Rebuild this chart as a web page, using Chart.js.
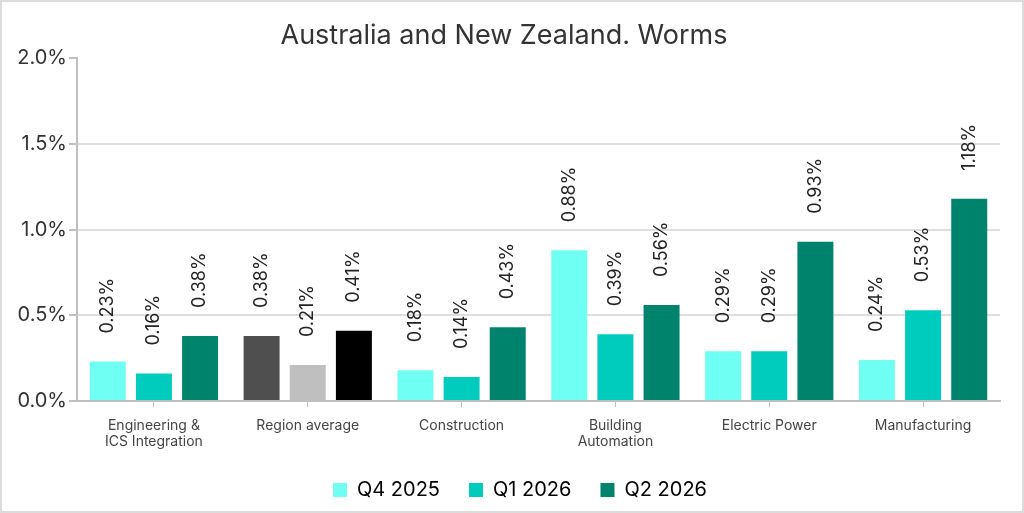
<!DOCTYPE html>
<html>
<head>
<meta charset="utf-8">
<script src="https://cdn.jsdelivr.net/npm/chart.js@4"></script>
<style>
  html, body { margin: 0; padding: 0; background: #fff; }
  #wrap { position: relative; width: 1024px; height: 513px; }
  #frame { position: absolute; left: 0; top: 0; width: 1020px; height: 509px; border: 2px solid #dcdcdc; pointer-events: none; }
</style>
</head>
<body>
<div id="wrap">
  <canvas id="wormsChart" width="1024" height="513"></canvas>
  <div id="frame"></div>
</div>
<script>
const categories = [
    ['Engineering &', 'ICS Integration'],
    'Region average',
    'Construction',
    ['Building', 'Automation'],
    'Electric Power',
    'Manufacturing'
];
const seriesNames = ['Q4 2025', 'Q1 2026', 'Q2 2026'];
const q4_2025 = [0.23, 0.38, 0.18, 0.88, 0.29, 0.24];
const q1_2026 = [0.16, 0.21, 0.14, 0.39, 0.29, 0.53];
const q2_2026 = [0.38, 0.41, 0.43, 0.56, 0.93, 1.18];
const yTicks = [0, 0.5, 1.0, 1.5, 2.0];

const seriesColors = ['#70fff3', '#00ccbe', '#00836d'];
const averageColors = ['#4f4f4f', '#bfbfbf', '#000000'];
const averageIndex = 1;
const fontFamily = 'Inter, "Noto Sans", sans-serif';

function barColor(series) {
    return function(ctx) {
        return ctx.dataIndex === averageIndex ? averageColors[series] : seriesColors[series];
    };
}

// rotated value labels above each bar
const valueLabels = {
    id: 'valueLabels',
    afterDatasetsDraw(chart) {
        const ctx = chart.ctx;
        ctx.save();
        ctx.font = '18px ' + fontFamily;
        ctx.fillStyle = '#222';
        ctx.textAlign = 'left';
        ctx.textBaseline = 'middle';
        chart.data.datasets.forEach((ds, i) => {
            chart.getDatasetMeta(i).data.forEach((bar, j) => {
                ctx.save();
                ctx.translate(bar.x, bar.y - 28);
                ctx.rotate(-Math.PI / 2);
                ctx.fillText(ds.data[j].toFixed(2) + '%', 0, 0);
                ctx.restore();
            });
        });
        ctx.restore();
    }
};

// the original centres title and legend a bit right of the plot centre
const shiftBlocks = {
    id: 'shiftBlocks',
    afterLayout(chart) {
        if (chart.legend) chart.legend.left += 40;
        if (chart.titleBlock) chart.titleBlock.left += 8;
    }
};

new Chart(document.getElementById('wormsChart').getContext('2d'), {
    type: 'bar',
    data: {
        labels: categories,
        datasets: [q4_2025, q1_2026, q2_2026].map((values, i) => ({
            label: seriesNames[i],
            data: values,
            backgroundColor: barColor(i),
            borderWidth: 0,
            categoryPercentage: 0.9,
            barPercentage: 0.78
        }))
    },
    options: {
        responsive: false,
        animation: false,
        layout: { padding: { left: 0, right: 24, top: 12, bottom: 3 } },
        plugins: {
            title: {
                display: true,
                text: 'Australia and New Zealand. Worms',
                color: '#333',
                font: { family: fontFamily, size: 27, weight: 'normal' },
                padding: { top: 8, bottom: 6 }
            },
            legend: {
                position: 'bottom',
                labels: {
                    color: '#333',
                    font: { family: fontFamily, size: 20 },
                    boxWidth: 14,
                    boxHeight: 14,
                    padding: 29,
                    generateLabels: chart => seriesNames.map((name, i) => ({
                        text: name,
                        fillStyle: seriesColors[i],
                        strokeStyle: seriesColors[i],
                        lineWidth: 0,
                        datasetIndex: i
                    }))
                }
            },
            tooltip: { enabled: false }
        },
        scales: {
            x: {
                afterFit: scale => { scale.height = 50; },
                grid: { display: true, offset: false, drawOnChartArea: false, tickLength: 6, color: '#bfbfbf' },
                border: { color: '#bfbfbf', width: 2 },
                ticks: {
                    color: '#444',
                    font: { family: fontFamily, size: 14 },
                    maxRotation: 0,
                    padding: 10
                }
            },
            y: {
                min: 0,
                max: 2.0,
                afterFit: scale => { scale.width = 77; },
                afterBuildTicks: scale => { scale.ticks = yTicks.map(v => ({ value: v })); },
                grid: {
                    color: ctx => ctx.index === yTicks.length - 1 ? 'rgba(0,0,0,0)' : '#dedede',
                    tickColor: '#bfbfbf',
                    tickLength: 8,
                    lineWidth: 2
                },
                border: { color: '#bfbfbf', width: 2 },
                ticks: {
                    color: '#333',
                    font: { family: fontFamily, size: 20 },
                    padding: 2,
                    callback: v => v.toFixed(1) + '%'
                }
            }
        }
    },
    plugins: [valueLabels, shiftBlocks]
});
</script>
</body>
</html>
